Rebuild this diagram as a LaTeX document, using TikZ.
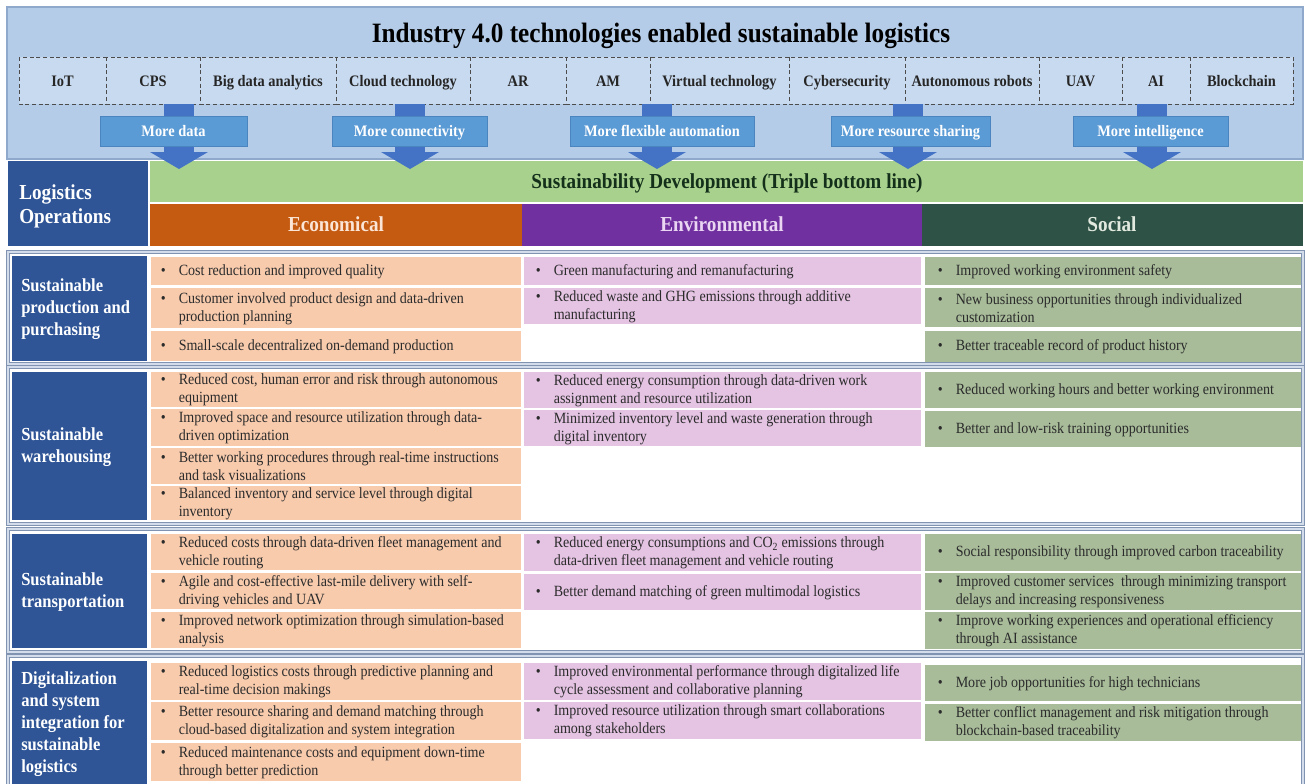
\documentclass[tikz,border=0pt]{standalone}
\usepackage{fontspec}
\setmainfont[FakeStretch=0.9]{Liberation Serif}
\usetikzlibrary{calc}

\definecolor{topbg}{HTML}{B4CCE8}
\definecolor{topborder}{HTML}{8EA9CB}
\definecolor{techbg}{HTML}{C8DAF0}
\definecolor{arrowdark}{HTML}{4472C4}
\definecolor{arrowlight}{HTML}{5B9BD5}
\definecolor{arrowedge}{HTML}{4A85C0}
\definecolor{navy}{HTML}{2F5597}
\definecolor{greenbar}{HTML}{A9D18E}
\definecolor{greentext}{HTML}{14301A}
\definecolor{econhead}{HTML}{C55A11}
\definecolor{envhead}{HTML}{7030A0}
\definecolor{sochead}{HTML}{2F5246}
\definecolor{econhtxt}{HTML}{FBE5D6}
\definecolor{envhtxt}{HTML}{EAD6F2}
\definecolor{sochtxt}{HTML}{E2EADF}
\definecolor{econcell}{HTML}{F8CBAD}
\definecolor{envcell}{HTML}{E4C3E3}
\definecolor{soccell}{HTML}{A8BC9A}
\definecolor{frameline}{HTML}{8093B0}
\definecolor{framemid}{HTML}{D3DCEB}
\definecolor{celltxt}{HTML}{2B2B2B}

\newcommand\fTitle{\fontsize{21pt}{25pt}\selectfont\bfseries}
\newcommand\fTech{\fontsize{12pt}{14pt}\selectfont\bfseries}
\newcommand\fHead{\fontsize{16pt}{18pt}\selectfont\bfseries}
\newcommand\fRow{\fontsize{13.8pt}{16.5pt}\selectfont\bfseries}
\newcommand\fCell{\fontsize{11.7pt}{13.5pt}\selectfont}
\newcommand\bulx{\makebox[13.5pt][l]{\textbullet}}
\newcommand\indx{\hspace*{13.5pt}}

\tikzset{
  techbox/.style={draw=black!70, densely dashed, line width=0.6pt, fill=techbg},
  techtext/.style={font=\fTech, text=black!85, inner sep=0pt, anchor=base},
  arrowbox/.style={fill=arrowlight, draw=arrowedge, line width=0.6pt},
  arrowtext/.style={text=white, font=\fTech, inner sep=0pt, anchor=base},
  headtext/.style={font=\fHead, inner sep=0pt, anchor=base},
  rowframe/.style={draw=frameline, double=framemid, line width=0.8pt, double distance=1pt},
  rowlabel/.style={font=\fRow, text=white, align=left, anchor=west, inner sep=0pt},
  celltext/.style={font=\fCell, text=celltxt, align=left, anchor=west, inner sep=0pt},
}

% tech box: name, x1, x2, text
\newcommand\tech[4]{%
  \draw[techbox] (#2,57) rectangle (#3,104);
  \node[techtext] (#1) at ({(#2+#3)/2},86.5) {#4};}

% block arrow: name, cx, bx1, bx2, text
\newcommand\barrow[5]{%
  \fill[arrowdark] ({#2-15},104) rectangle ({#2+15},153);
  \fill[arrowdark] ({#2-29},152) -- ({#2+29},152) -- (#2,169) -- cycle;
  \draw[arrowbox] (#3,116) rectangle (#4,146);
  \node[arrowtext] (#1) at ({(#3+#4)/2},136) {#5};}

% cell: name, fill, x1, x2, xt, y1, y2, text
\newcommand\ccell[8]{%
  \fill[#2] (#3,#6) rectangle (#4,#7);
  \node[celltext] (#1) at (#5,{(#6+#7)/2+0.5}) {#8};}
\newcommand\ecell[4]{\ccell{#1}{econcell}{151}{521}{160.5}{#2}{#3}{#4}}
\newcommand\vcell[4]{\ccell{#1}{envcell}{524}{921}{535.5}{#2}{#3}{#4}}
\newcommand\scell[4]{\ccell{#1}{soccell}{925}{1301}{937.5}{#2}{#3}{#4}}

\begin{document}
\begin{tikzpicture}[x=0.75pt,y=-0.75pt]
\path[use as bounding box] (0,0) rectangle (1305,783);
\clip (0,0) rectangle (1305,783);
\fill[white] (0,0) rectangle (1305,783);

% ---------- top panel ----------
\draw[draw=topborder, fill=topbg, line width=0.8pt] (7,7) rectangle (1303,159);
\node[font=\fTitle, inner sep=0pt, anchor=base] (title) at (661,42) {Industry 4.0 technologies enabled sustainable logistics};

\tech{iot}{19}{106}{IoT}
\tech{cps}{106}{200}{CPS}
\tech{bda}{200}{336}{Big data analytics}
\tech{cloud}{336}{470}{Cloud technology}
\tech{ar}{470}{566}{AR}
\tech{am}{566}{650}{AM}
\tech{virt}{650}{789}{Virtual technology}
\tech{cyber}{789}{905}{Cybersecurity}
\tech{robots}{905}{1039}{Autonomous robots}
\tech{uav}{1039}{1122}{UAV}
\tech{ai}{1122}{1190}{AI}
\tech{chain}{1190}{1293}{Blockchain}

% ---------- lower header ----------
\fill[navy] (8,161) rectangle (148,246);
\node[font=\fontsize{16pt}{18pt}\selectfont\bfseries, text=white, align=left, anchor=west, inner sep=0pt] (logops) at (19,206) {Logistics\\Operations};
\fill[greenbar] (150,161) rectangle (1303,202);
\node[headtext, text=greentext] (sust) at (727,188) {Sustainability Development (Triple bottom line)};
\fill[econhead] (150,204) rectangle (522,246);
\node[headtext, text=econhtxt] (econ) at (336,231) {Economical};
\fill[envhead] (522,204) rectangle (922,246);
\node[headtext, text=envhtxt] (env) at (722,231) {Environmental};
\fill[sochead] (922,204) rectangle (1303,246);
\node[headtext, text=sochtxt] (soc) at (1112,231) {Social};

% ---------- arrows ----------
\barrow{mdata}{179}{100}{247}{More data}
\barrow{mconn}{410}{332}{487}{More connectivity}
\barrow{mflex}{657}{570}{754}{More flexible automation}
\barrow{mshare}{908}{831}{990}{More resource sharing}
\barrow{mintel}{1152}{1073}{1228}{More intelligence}

% ---------- row 1 ----------
\draw[rowframe] (8,252) rectangle (1303,364);
\fill[navy] (12,256) rectangle (147,361);
\node[rowlabel] (r1) at (21,309) {Sustainable\\production and\\purchasing};
\ecell{e11}{257}{285}{\bulx Cost reduction and improved quality}
\ecell{e12}{288}{328}{\bulx Customer involved product design and data-driven\\\indx production planning}
\ecell{e13}{331}{361}{\bulx Small-scale decentralized on-demand production}
\vcell{v11}{257}{285}{\bulx Green manufacturing and remanufacturing}
\vcell{v12}{288}{324}{\bulx Reduced waste and GHG emissions through additive\\\indx manufacturing}
\scell{s11}{257}{285}{\bulx Improved working environment safety}
\scell{s12}{288}{327}{\bulx New business opportunities through individualized\\\indx customization}
\scell{s13}{331}{362}{\bulx Better traceable record of product history}

% ---------- row 2 ----------
\draw[rowframe] (8,367) rectangle (1303,524);
\fill[navy] (12,372) rectangle (147,520);
\node[rowlabel] (r2) at (21,447) {Sustainable\\warehousing};
\ecell{e21}{372}{407}{\bulx Reduced cost, human error and risk through autonomous\\\indx equipment}
\ecell{e22}{409}{446}{\bulx Improved space and resource utilization through data-\\\indx driven optimization}
\ecell{e23}{448}{484}{\bulx Better working procedures through real-time instructions\\\indx and task visualizations}
\ecell{e24}{486}{520}{\bulx Balanced inventory and service level through digital\\\indx inventory}
\vcell{v21}{372}{408}{\bulx Reduced energy consumption through data-driven work\\\indx assignment and resource utilization}
\vcell{v22}{410}{446}{\bulx Minimized inventory level and waste generation through\\\indx digital inventory}
\scell{s21}{372}{408}{\bulx Reduced working hours and better working environment}
\scell{s22}{411}{447}{\bulx Better and low-risk training opportunities}

% ---------- row 3 ----------
\draw[rowframe] (8,529) rectangle (1303,652);
\fill[navy] (12,534) rectangle (147,648);
\node[rowlabel] (r3) at (21,592) {Sustainable\\transportation};
\ecell{e31}{534}{570}{\bulx Reduced costs through data-driven fleet management and\\\indx vehicle routing}
\ecell{e32}{573}{609}{\bulx Agile and cost-effective last-mile delivery with self-\\\indx driving vehicles and UAV}
\ecell{e33}{612}{648}{\bulx Improved network optimization through simulation-based\\\indx analysis}
\vcell{v31}{534}{571}{\bulx Reduced energy consumptions and CO\textsubscript{2} emissions through\\\indx data-driven fleet management and vehicle routing}
\vcell{v32}{574}{610}{\bulx Better demand matching of green multimodal logistics}
\scell{s31}{534}{571}{\bulx Social responsibility through improved carbon traceability}
\scell{s32}{573}{610}{\bulx Improved customer services\ \ through minimizing transport\\\indx delays and increasing responsiveness}
\scell{s33}{612}{649}{\bulx Improve working experiences and operational efficiency\\\indx through AI assistance}

% ---------- row 4 ----------
\draw[rowframe] (8,656) rectangle (1303,800);
\fill[navy] (12,661) rectangle (147,790);
\node[rowlabel] (r4) at (21,724) {Digitalization\\and system\\integration for\\sustainable\\logistics};
\ecell{e41}{663}{700}{\bulx Reduced logistics costs through predictive planning and\\\indx real-time decision makings}
\ecell{e42}{702}{740}{\bulx Better resource sharing and demand matching through\\\indx cloud-based digitalization and system integration}
\ecell{e43}{743}{781}{\bulx Reduced maintenance costs and equipment down-time\\\indx through better prediction}
\vcell{v41}{663}{700}{\bulx Improved environmental performance through digitalized life\\\indx cycle assessment and collaborative planning}
\vcell{v42}{702}{739}{\bulx Improved resource utilization through smart collaborations\\\indx among stakeholders}
\scell{s41}{665}{701}{\bulx More job opportunities for high technicians}
\scell{s42}{704}{741}{\bulx Better conflict management and risk mitigation through\\\indx blockchain-based traceability}
\end{tikzpicture}
\end{document}
